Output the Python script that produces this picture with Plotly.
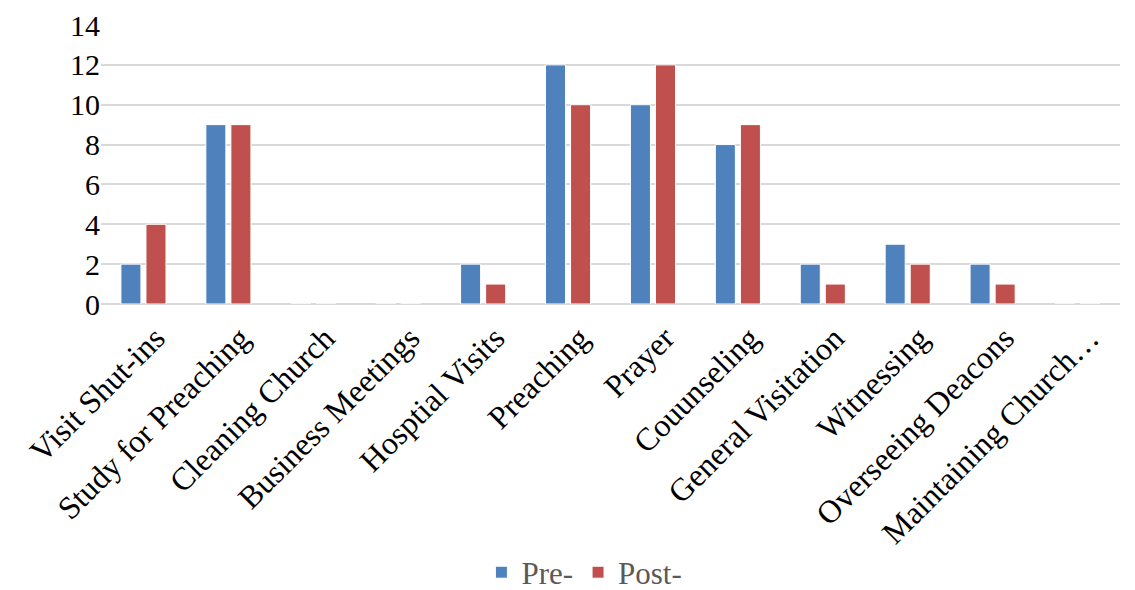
import plotly.graph_objects as go

categories = ["Visit Shut-ins", "Study for Preaching", "Cleaning Church", "Business Meetings",
              "Hosptial Visits", "Preaching", "Prayer", "Couunseling", "General Visitation",
              "Witnessing", "Overseeing Deacons", "Maintaining Church…"]
pre = [2, 9, 0, 0, 2, 12, 10, 8, 2, 3, 2, 0]
post = [4, 9, 0, 0, 1, 10, 12, 9, 1, 2, 1, 0]
y_ticks = [0, 2, 4, 6, 8, 10, 12, 14]

FONT = "Liberation Serif, Times New Roman, serif"

fig = go.Figure()
fig.add_trace(go.Bar(name="Pre-", x=categories, y=pre, marker=dict(color="#4F81BD", line=dict(color="white", width=1))))
fig.add_trace(go.Bar(name="Post- ", x=categories, y=post, marker=dict(color="#C0504D", line=dict(color="white", width=1))))

fig.update_layout(
    width=1127, height=582,
    margin=dict(l=93, r=15, t=17, b=286),
    paper_bgcolor="white", plot_bgcolor="white",
    barmode="group", bargap=0.41, bargroupgap=0.2,
    font=dict(family=FONT, size=30, color="black"),
    showlegend=True,
    legend=dict(orientation="h", x=0.515, xanchor="center", xref="container",
                y=0.03, yanchor="middle", yref="container", borderwidth=0,
                font=dict(family=FONT, size=31, color="#595959"), itemwidth=30,
                traceorder="normal", tracegroupgap=0),
    xaxis=dict(tickangle=-45, showgrid=False, showline=False, ticks="", automargin=False,
               ticklabelstandoff=8, ticklabelshift=12,
               tickfont=dict(family=FONT, size=32, color="black")),
    yaxis=dict(range=[0, 14], tickvals=y_ticks, showgrid=True, gridcolor="#d9d9d9", gridwidth=1.5,
               zeroline=True, zerolinecolor="#d9d9d9", zerolinewidth=1.5, showline=False, ticks="",
               automargin=False, tickfont=dict(family=FONT, size=30, color="black")),
)

fig.write_html("out.html")
